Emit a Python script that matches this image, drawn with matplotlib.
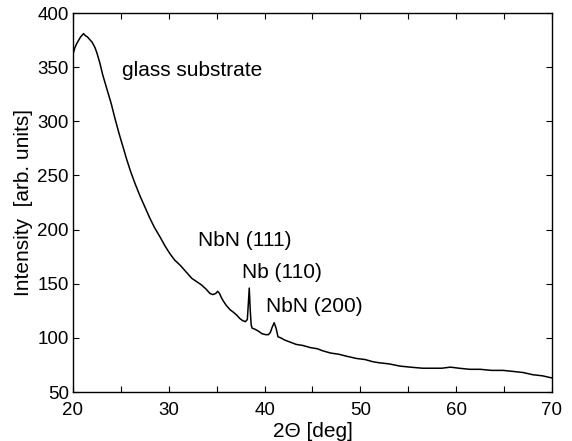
import matplotlib
matplotlib.use("Agg")
import matplotlib.pyplot as plt
from matplotlib.ticker import MultipleLocator

# diffraction pattern
two_theta = [20.0, 20.2, 20.4, 20.6, 20.8, 21.0, 21.1, 21.3, 21.5, 21.7, 22.0, 22.3,
             22.5, 22.8, 23.1, 23.5, 24.0, 24.4, 24.8, 25.2, 25.6, 26.0, 26.5,
             27.0, 27.5, 28.0, 28.5, 29.1, 29.6, 30.1, 30.6, 31.2, 31.8, 32.4,
             32.9, 33.4, 33.9, 34.3, 34.6, 34.9, 35.1, 35.3, 35.5, 35.7, 36.0, 36.4,
             36.7, 37.1, 37.4, 37.7, 38.0, 38.2, 38.3, 38.4, 38.5, 38.6, 38.7, 39.0,
             39.4, 39.7, 40.1, 40.4, 40.6, 40.8, 41.0, 41.2, 41.4, 41.7, 42.1, 42.7,
             43.3, 44.0, 44.8, 45.5, 46.1, 46.9, 47.7, 48.6, 49.6, 50.5, 51.3, 52.0,
             53.0, 54.1, 55.2, 56.5, 57.5, 58.5, 59.4, 60.3, 61.4, 62.5, 63.7, 64.9,
             66.0, 67.0, 68.0, 69.0, 70.0]
intensity = [362, 368, 372, 375, 378, 380, 381, 379, 378, 376, 373, 368,
             363, 354, 343, 331, 316, 302, 289, 277, 265, 254, 242,
             231, 221, 211, 202, 193, 185, 178, 172, 167, 161, 155,
             152, 149, 145, 141, 140, 141, 143, 141, 137, 134, 130, 126,
             124, 121, 118, 116, 115, 117, 131, 146, 126, 112, 109, 108,
             106, 104, 103, 103, 105, 110, 114, 109, 101, 100, 98, 96,
             94, 93, 91, 90, 88, 86, 85, 83, 81, 80, 78, 77,
             76, 74, 73, 72, 72, 72, 73, 72, 71, 71, 70, 70,
             69, 68, 66, 65, 63]

labels = ["glass substrate", "NbN (111)", "Nb (110)", "NbN (200)"]
label_x = [25.1, 33.0, 37.6, 40.1]
label_y = [347, 190, 160, 129]

plt.rcParams["font.family"] = ["Liberation Sans", "DejaVu Sans"]

fig = plt.figure(figsize=(5.72, 4.41), dpi=100)
ax = fig.add_axes([0.1276, 0.111, 0.8374, 0.8595])
ax.plot(two_theta, intensity, color="black", linewidth=1.1)

for txt, tx, ty in zip(labels, label_x, label_y):
    ax.text(tx, ty, txt, fontsize=15, ha="left", va="center")

ax.set_xlim(20, 70)
ax.set_ylim(50, 400)
ax.xaxis.set_major_locator(MultipleLocator(10))
ax.xaxis.set_minor_locator(MultipleLocator(5))
ax.yaxis.set_major_locator(MultipleLocator(50))
ax.tick_params(which="both", direction="in", top=True, right=True,
               length=4, width=0.8, labelsize=13.5)
ax.tick_params(axis="x", pad=7)
ax.tick_params(axis="y", pad=3)
ax.set_xlabel("2\u0398 [deg]", fontsize=15, labelpad=2)
ax.set_ylabel("Intensity  [arb. units]", fontsize=15, labelpad=3)
for s in ax.spines.values():
    s.set_linewidth(1.0)

fig.savefig("out.png", dpi=100)
